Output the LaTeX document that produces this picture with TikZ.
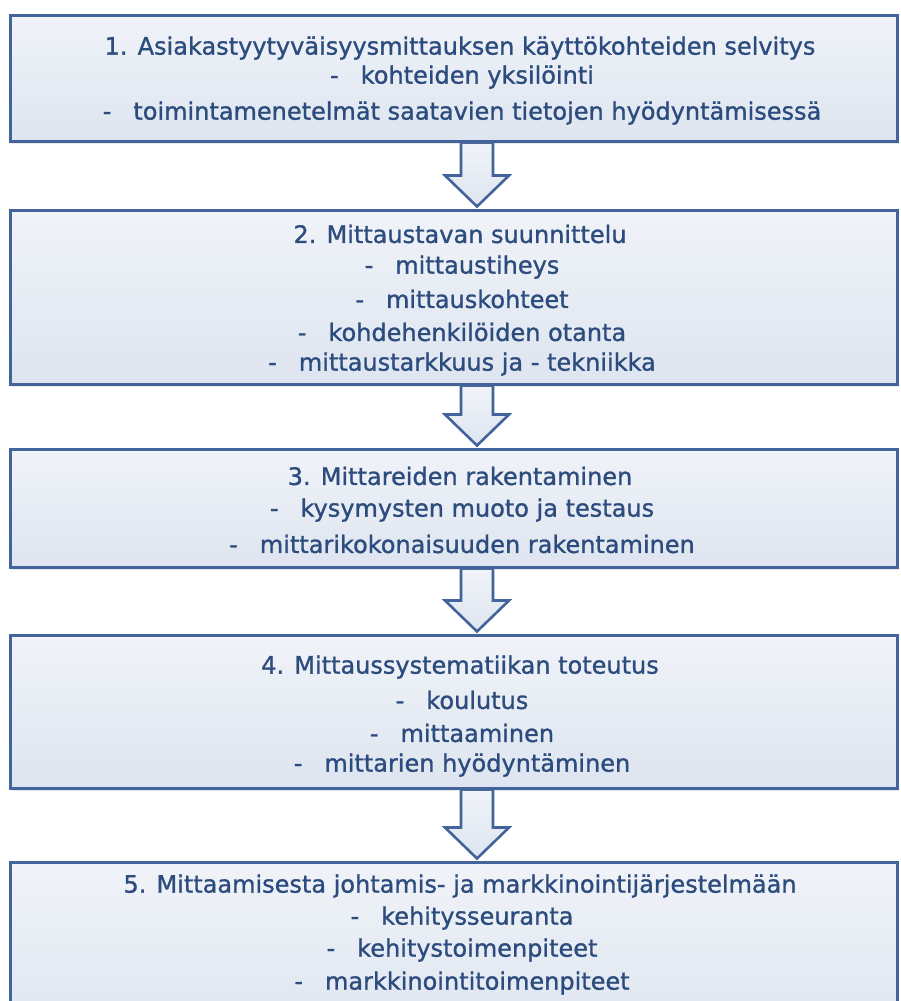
\documentclass[tikz,border=0pt]{standalone}
\usepackage{fontspec}
\setmainfont{DejaVu Sans}[FakeBold=1.1]
\usetikzlibrary{backgrounds,shadows,calc}
\definecolor{txtblue}{RGB}{44,76,126}
\definecolor{brdblue}{RGB}{66,100,154}
\definecolor{filltop}{RGB}{240,243,248}
\definecolor{fillbot}{RGB}{222,229,240}
\tikzset{
  stepbox/.style={draw=brdblue, line width=3pt, top color=filltop, bottom color=fillbot,
    minimum width=887pt, inner sep=0pt,
    drop shadow={opacity=0.18, shadow xshift=2pt, shadow yshift=-3pt}},
  linetxt/.style={text=txtblue, font=\fontsize{24}{28}\selectfont, inner sep=0pt, anchor=center},
  flowarrow/.style={draw=brdblue, line width=2.6pt, line join=miter, top color=filltop, bottom color=fillbot}
}
\newcommand{\dsh}[1]{-\hspace{22pt}#1}
\begin{document}
\begin{tikzpicture}[x=1pt,y=-1pt]
\useasboundingbox (0,0) rectangle (901,1001);
\begin{scope}
\clip (0,0) rectangle (901,1001);
% boxes
\node[stepbox, minimum height=126pt] (b1) at (453.5,78) {};
\node[stepbox, minimum height=174pt] (b2) at (453.5,297) {};
\node[stepbox, minimum height=118pt] (b3) at (453.5,508) {};
\node[stepbox, minimum height=153pt] (b4) at (453.5,711.5) {};
\node[stepbox, minimum height=180pt] (b5) at (453.5,952) {};
\end{scope}
% arrows
\begin{scope}[on background layer]
\foreach \a/\b in {b1/b2,b2/b3,b3/b4,b4/b5}{
  \path[flowarrow] let \p1=(\a.south), \p2=(\b.north) in
    (461pt,\y1) -- (493pt,\y1) -- (493pt,\y2+33pt) -- (509pt,\y2+33pt) -- (477pt,\y2+2pt)
    -- (445pt,\y2+33pt) -- (461pt,\y2+33pt) -- cycle;
}
\end{scope}
% texts box 1
\node[linetxt] (t11) at (460,48) {1. Asiakastyytyväisyysmittauksen käyttökohteiden selvitys};
\node[linetxt] (t12) at (462,77) {\dsh{kohteiden yksilöinti}};
\node[linetxt] (t13) at (462,113) {\dsh{toimintamenetelmät saatavien tietojen hyödyntämisessä}};
% box 2
\node[linetxt] (t21) at (460,234) {2. Mittaustavan suunnittelu};
\node[linetxt] (t22) at (462,267) {\dsh{mittaustiheys}};
\node[linetxt] (t23) at (462,299) {\dsh{mittauskohteet}};
\node[linetxt] (t24) at (462,332) {\dsh{kohdehenkilöiden otanta}};
\node[linetxt] (t25) at (462,364) {\dsh{mittaustarkkuus ja - tekniikka}};
% box 3
\node[linetxt] (t31) at (460,476) {3. Mittareiden rakentaminen};
\node[linetxt] (t32) at (462,510) {\dsh{kysymysten muoto ja testaus}};
\node[linetxt] (t33) at (462,544) {\dsh{mittarikokonaisuuden rakentaminen}};
% box 4
\node[linetxt] (t41) at (460,667) {4. Mittaussystematiikan toteutus};
\node[linetxt] (t42) at (462,700) {\dsh{koulutus}};
\node[linetxt] (t43) at (462,733) {\dsh{mittaaminen}};
\node[linetxt] (t44) at (462,765) {\dsh{mittarien hyödyntäminen}};
% box 5
\node[linetxt] (t51) at (460,886) {5. Mittaamisesta johtamis- ja markkinointijärjestelmään};
\node[linetxt] (t52) at (462,918) {\dsh{kehitysseuranta}};
\node[linetxt] (t53) at (462,950) {\dsh{kehitystoimenpiteet}};
\node[linetxt] (t54) at (462,983) {\dsh{markkinointitoimenpiteet}};
\end{tikzpicture}
\end{document}
